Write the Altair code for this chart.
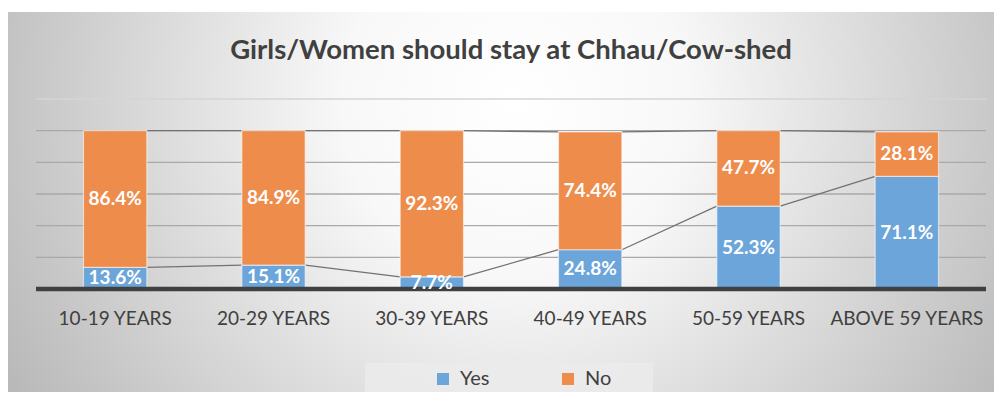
import altair as alt
import pandas as pd

categories = ["10-19 YEARS", "20-29 YEARS", "30-39 YEARS", "40-49 YEARS", "50-59 YEARS", "ABOVE 59 YEARS"]
yes_values = [13.6, 15.1, 7.7, 24.8, 52.3, 71.1]
no_values = [86.4, 84.9, 92.3, 74.4, 47.7, 28.1]
series_names = ["Yes", "No"]
series_colors = ["#6BA5DA", "#EE8C4C"]
grid_values = [20, 40, 60, 80, 100, 120]
title_text = "Girls/Women should stay at Chhau/Cow-shed"

rows = []
for i, c in enumerate(categories):
    rows.append({"cat": c, "idx": i, "series": "Yes", "sorder": 0, "value": yes_values[i]})
    rows.append({"cat": c, "idx": i, "series": "No", "sorder": 1, "value": no_values[i]})
df = pd.DataFrame(rows)

FONT = "Lato"
xscale = alt.Scale(domain=categories, paddingInner=0.6, paddingOuter=0.3)
yscale = alt.Scale(domain=[0, 120], nice=False, zero=True)
xaxis = alt.Axis(title=None, domain=False, ticks=False, tickSize=0, grid=False,
                 labelFont=FONT, labelFontSize=19, labelColor="#404040",
                 labelPadding=35, labelBaseline="alphabetic", labelAngle=0, zindex=1)

one = pd.DataFrame({"a": [0]})

bg = alt.Chart(one).mark_rect(
    fill=alt.RadialGradient(
        gradient="radial",
        stops=[alt.GradientStop(offset=0, color="#ffffff"),
               alt.GradientStop(offset=0.3, color="#f8f8f8"),
               alt.GradientStop(offset=1, color="#b9b9b9")],
        x1=0.51, y1=0.4, r1=0, x2=0.51, y2=0.4, r2=0.58)
).encode(x=alt.value(-28), x2=alt.value(966), y=alt.value(-87), y2=alt.value(293))

grid = alt.Chart(pd.DataFrame({"v": grid_values})).mark_rule(strokeWidth=1.3).encode(
    y=alt.Y("v:Q", scale=yscale, axis=None),
    color=alt.condition("datum.v > 110", alt.value("#d4d4d4"), alt.value("#a9a9a9")),
)

base = alt.Chart(df).transform_stack(
    stack="value", groupby=["cat"], as_=["v0", "v1"],
    sort=[alt.SortField("sorder", order="ascending")])

series_lines = base.transform_window(
    next_v1="lead(v1)", next_cat="lead(cat)",
    groupby=["series"], sort=[alt.SortField("idx", order="ascending")]
).transform_filter("datum.next_cat != null").mark_rule(color="#727272", strokeWidth=1.3).encode(
    x=alt.X("cat:N", scale=xscale, sort=categories, bandPosition=1, axis=xaxis),
    x2=alt.X2("next_cat", bandPosition=0),
    y=alt.Y("v1:Q", scale=yscale, axis=None),
    y2="next_v1:Q",
)

bars = base.mark_bar(stroke="white", strokeOpacity=0.55, strokeWidth=1.2).encode(
    x=alt.X("cat:N", scale=xscale, sort=categories, axis=xaxis),
    y=alt.Y("v0:Q", scale=yscale, axis=None),
    y2="v1:Q",
    color=alt.Color("series:N", scale=alt.Scale(domain=series_names, range=series_colors),
                    legend=alt.Legend(orient="none", legendX=397, legendY=270,
                                      direction="horizontal", title=None,
                                      symbolType="square", symbolSize=144,
                                      symbolStrokeWidth=0,
                                      labelFont=FONT, labelFontSize=20,
                                      labelColor="#404040", labelOffset=7,
                                      columnPadding=68, padding=0, zindex=1)),
)

baseline = alt.Chart(pd.DataFrame({"v": [0]})).mark_rule(color="#404040", strokeWidth=4.5).encode(
    y=alt.Y("v:Q", scale=yscale, axis=None))

labels = base.transform_calculate(
    mid="(datum.v0 + datum.v1) / 2",
    label="format(datum.value, '.1f') + '%'",
).mark_text(font=FONT, fontWeight="bold", fontSize=19, color="white", baseline="middle").encode(
    x=alt.X("cat:N", scale=xscale, sort=categories, axis=xaxis),
    y=alt.Y("mid:Q", scale=yscale, axis=None),
    text="label:N",
)

legend_box = alt.Chart(one).mark_rect(fill="#ebebeb", opacity=0.85).encode(
    x=alt.value(329), x2=alt.value(617), y=alt.value(264), y2=alt.value(296))

title = alt.Chart(pd.DataFrame({"t": [title_text]})).mark_text(
    font=FONT, fontSize=27.5, fontWeight="bold", color="#404040",
    align="center", baseline="alphabetic"
).encode(x=alt.value(475), y=alt.value(-40), text="t:N")

chart = alt.layer(bg, grid, series_lines, bars, baseline, labels, legend_box, title).properties(
    width=950, height=190,
    padding={"left": 28, "top": 91, "right": 8, "bottom": 103},
    autosize=alt.AutoSizeParams(type="none"),
    background="white",
).configure_view(stroke=None)

chart.save("out.html", embed_options={"renderer": "svg", "actions": False})
